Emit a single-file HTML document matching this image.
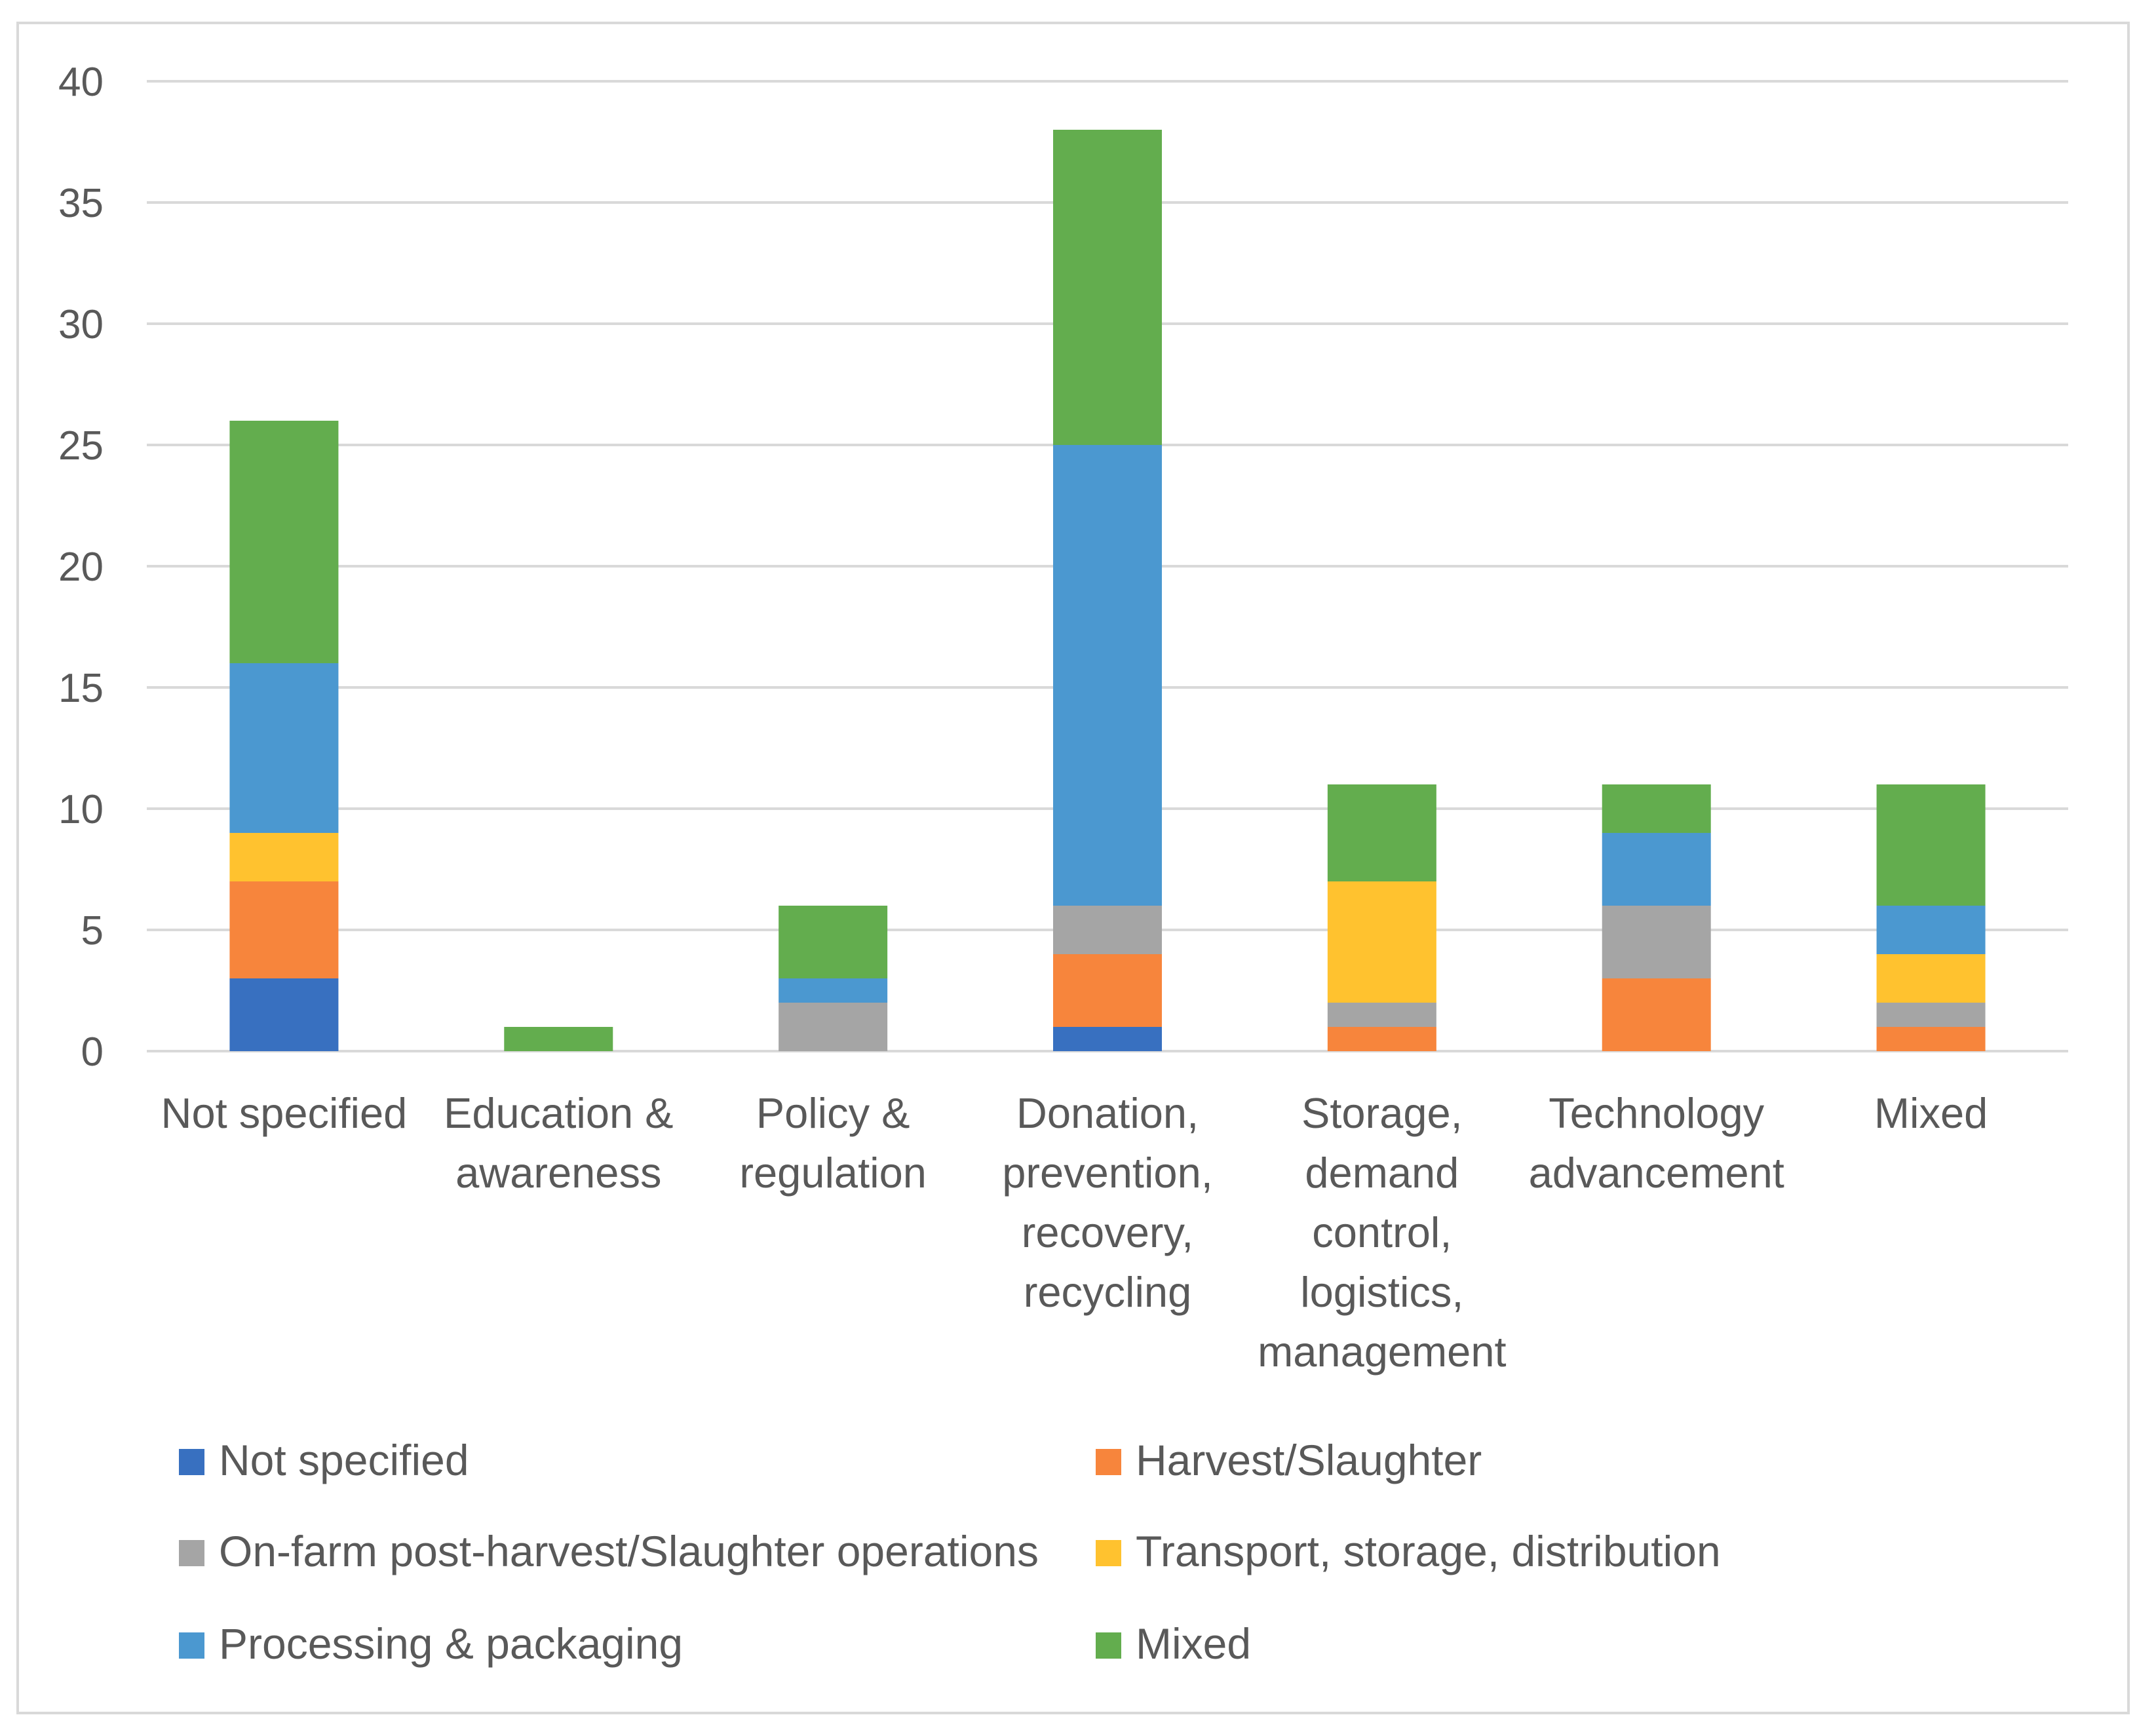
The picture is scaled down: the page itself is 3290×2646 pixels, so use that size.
<!DOCTYPE html>
<html><head><meta charset="utf-8"><style>
html,body{margin:0;padding:0;background:#fff;}
svg{display:block;}
text{font-family:"Liberation Sans",sans-serif;fill:#595959;}
</style></head><body>
<svg id="chart" width="3290" height="2646" viewBox="0 0 3290 2646" xmlns="http://www.w3.org/2000/svg">
<rect x="27" y="35" width="3221" height="2579" fill="#fff" stroke="#d9d9d9" stroke-width="4"/>
<g id="grid"></g>
<g id="yticks"></g>
<g id="bars"></g>
<g id="xlabels"></g>
<g id="legend"></g>
</svg>
<script>
const categories = [["Not specified"],["Education &","awareness"],["Policy &","regulation"],["Donation,","prevention,","recovery,","recycling"],["Storage,","demand","control,","logistics,","management"],["Technology","advancement"],["Mixed"]];
const seriesNames = ["Not specified","Harvest/Slaughter","On-farm post-harvest/Slaughter operations","Transport, storage, distribution","Processing & packaging","Mixed"];
const sNotSpecified = [3,0,0,1,0,0,0];
const sHarvest = [4,0,0,3,1,3,1];
const sOnFarm = [0,0,2,2,1,3,1];
const sTransport = [2,0,0,0,5,0,2];
const sProcessing = [7,0,1,19,0,3,2];
const sMixed = [10,1,3,13,4,2,5];
const yTicks = [0,5,10,15,20,25,30,35,40];

const series = [sNotSpecified,sHarvest,sOnFarm,sTransport,sProcessing,sMixed];
const colors = ["#3870C0","#F7853C","#A5A5A5","#FFC22F","#4B98D0","#63AD4E"];
const NS="http://www.w3.org/2000/svg";
const x0=224,x1=3156,y0=1604,yTop=124,ymax=40;
const bw=(x1-x0)/categories.length, barW=166;
const Y=v=>y0-(v/ymax)*(y0-yTop);
const X=i=>x0+bw*(i+0.5);
function mk(tag,attrs,parent){const e=document.createElementNS(NS,tag);for(const k in attrs)e.setAttribute(k,attrs[k]);parent.appendChild(e);return e;}
const grid=document.getElementById('grid'),yt=document.getElementById('yticks'),bars=document.getElementById('bars'),xl=document.getElementById('xlabels'),lg=document.getElementById('legend');
yTicks.forEach(t=>{
  const l=mk('line',{x1:x0,x2:x1,y1:Y(t),y2:Y(t),stroke:'#d9d9d9','stroke-width':4},grid);
  
  
  const tx=mk('text',{x:158,y:Y(t)+22,'text-anchor':'end','font-size':62},yt);
  tx.textContent=t;
  
  
});
categories.forEach((c,i)=>{
  let acc=0;
  series.forEach((s,k)=>{
    const v=s[i]; if(!v) return;
    const r=mk('rect',{x:X(i)-barW/2,y:Y(acc+v),width:barW,height:Y(acc)-Y(acc+v),fill:colors[k]},bars);
    
    
    acc+=v;
  });
  c.forEach((line,j)=>{
    const t=mk('text',{x:X(i),y:1721+j*91,'text-anchor':'middle','font-size':65},xl);
    t.textContent=line;
    
    
  });
});
const lx=[273,1672], ly=[2251,2390,2531];
seriesNames.forEach((n,k)=>{
  const col=k%2,row=Math.floor(k/2);
  const r=mk('rect',{x:lx[col],y:ly[row]-40,width:39,height:40,fill:colors[k]},lg);
  
  
  const t=mk('text',{x:lx[col]+61,y:ly[row],'font-size':66},lg);
  t.textContent=n;
  
  
});
</script>
</body></html>
